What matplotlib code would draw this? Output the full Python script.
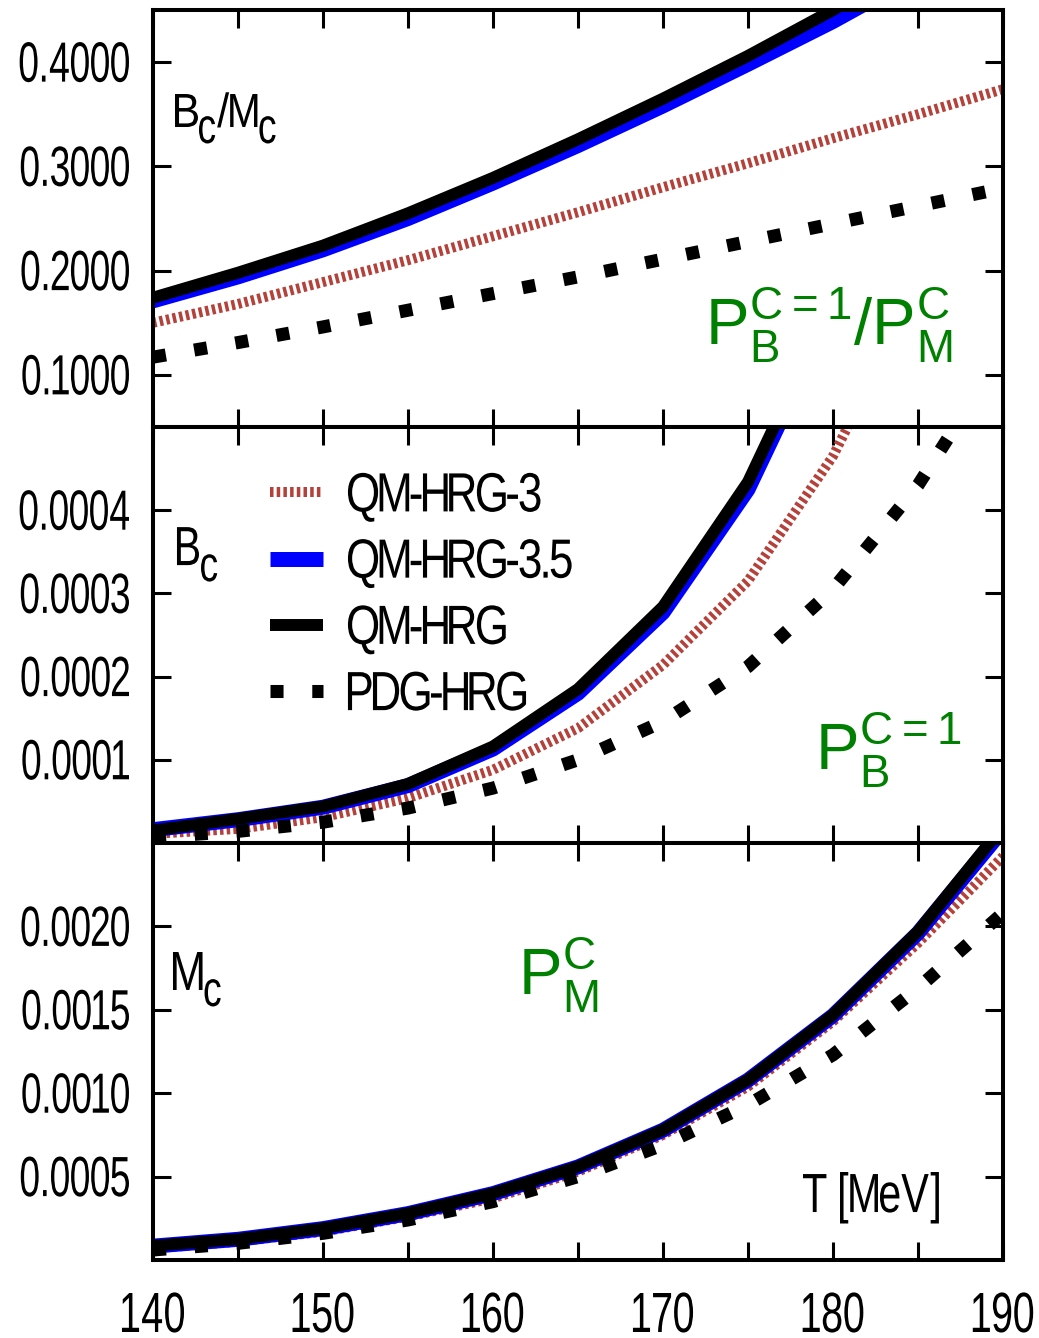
import matplotlib
matplotlib.use('Agg')
import matplotlib.pyplot as plt
import matplotlib.transforms as mtransforms
from matplotlib.font_manager import FontProperties
from matplotlib.textpath import TextPath
from matplotlib.patches import PathPatch
from matplotlib.path import Path
import numpy as np

# temperatures (MeV)
T = [140, 145, 150, 155, 160, 165, 170, 175, 180, 185, 190]

# ratio B_c / M_c
ratio_qm3 = [0.150, 0.168, 0.189, 0.210, 0.233, 0.256, 0.280, 0.303, 0.327, 0.350, 0.374]
ratio_qm35 = [0.171, 0.194, 0.220, 0.250, 0.284, 0.320, 0.358, 0.398, 0.439, 0.484, 0.532]
ratio_qm = [0.174, 0.198, 0.224, 0.255, 0.289, 0.326, 0.365, 0.406, 0.450, 0.497, 0.546]
ratio_pdg = [0.117, 0.131, 0.146, 0.162, 0.178, 0.194, 0.211, 0.228, 0.245, 0.262, 0.279]

# charmed baryon pressure B_c
bc_qm3 = [1.1e-5, 1.7e-5, 3.1e-5, 5.4e-5, 8.8e-5, 1.38e-4, 2.14e-4, 3.15e-4, 4.65e-4, 6.7e-4, 9.1e-4]
bc_qm35 = [1.6e-5, 2.8e-5, 4.3e-5, 6.9e-5, 1.13e-4, 1.80e-4, 2.77e-4, 4.25e-4, 6.40e-4, 9.6e-4, 1.37e-3]
bc_qm = [1.5e-5, 2.9e-5, 4.4e-5, 7.1e-5, 1.16e-4, 1.85e-4, 2.84e-4, 4.34e-4, 6.5e-4, 9.8e-4, 1.40e-3]
bc_pdg = [7e-6, 1.4e-5, 2.5e-5, 4.2e-5, 6.6e-5, 1.0e-4, 1.46e-4, 2.12e-4, 3.05e-4, 4.3e-4, 5.9e-4]

# charmed meson pressure M_c
mc_qm3 = [7e-5, 1.1e-4, 1.7e-4, 2.6e-4, 3.7e-4, 5.3e-4, 7.5e-4, 1.04e-3, 1.43e-3, 1.90e-3, 2.42e-3]
mc_qm35 = [8.3e-5, 1.24e-4, 1.88e-4, 2.78e-4, 3.98e-4, 5.58e-4, 7.78e-4, 1.078e-3, 1.465e-3, 1.96e-3, 2.58e-3]
mc_qm = [8.5e-5, 1.25e-4, 1.9e-4, 2.8e-4, 4.0e-4, 5.6e-4, 7.8e-4, 1.08e-3, 1.47e-3, 1.97e-3, 2.6e-3]
mc_pdg = [6e-5, 1.0e-4, 1.6e-4, 2.4e-4, 3.5e-4, 5.0e-4, 6.9e-4, 9.3e-4, 1.23e-3, 1.63e-3, 2.08e-3]

labels = ['QM-HRG-3', 'QM-HRG-3.5', 'QM-HRG', 'PDG-HRG']
xtick_labels = ['140', '150', '160', '170', '180', '190']

plt.rcParams['font.family'] = ['Liberation Sans', 'DejaVu Sans']
plt.rcParams['mathtext.fontset'] = 'custom'
plt.rcParams['mathtext.rm'] = 'Liberation Sans'

FP = FontProperties(family='Liberation Sans')
CAP = TextPath((0, 0), 'H', size=100, prop=FP).get_extents().height / 100.0


def ntext(ax, x, y, s, cap, sx=0.75, gap=2.0, ha='left', va='baseline', color='black',
          trans=None, xoff=0.0, yoff=0.0, em=None):
    """Condensed, tightly tracked text built from glyph outlines (sizes in pixels)."""
    em = em or cap / CAP
    verts, codes, cur = [], [], 0.0
    for ch in s:
        if ch == ' ':
            cur += 0.28 * em * sx
            continue
        extra = gap if ch == '.' else 0.0
        cur += extra
        p = TextPath((0, 0), ch, size=em, prop=FP)
        e = p.get_extents()
        p = p.transformed(mtransforms.Affine2D().scale(sx, 1).translate(cur - e.x0 * sx, 0))
        verts.append(p.vertices)
        codes.append(p.codes)
        cur += e.width * sx + gap + extra
    width = cur - gap
    path = Path(np.concatenate(verts), np.concatenate(codes))
    dx = {'left': 0.0, 'center': -width / 2, 'right': -width}[ha]
    dy = {'baseline': 0.0, 'center': -cap / 2, 'top': -cap}[va]
    base = trans if trans is not None else ax.transAxes
    tr = mtransforms.Affine2D().translate(dx + xoff, dy + yoff) + \
        mtransforms.ScaledTranslation(x, y, base)
    ax.add_patch(PathPatch(path, transform=tr, facecolor=color, edgecolor='none',
                           clip_on=False))
    return xoff + dx + width


fig = plt.figure(figsize=(10.39, 13.38), dpi=100)
W, H = 1039.0, 1338.0
x0, x1 = 153 / W, 1003 / W
rows = [(10, 427), (427, 843), (843, 1260)]
axes = [fig.add_axes([x0, 1 - b / H, x1 - x0, (b - t) / H]) for t, b in rows]

red = '#b5413b'
styles = [
    dict(color=red, lw=7.2, linestyle=(0, (0.35, 0.32)), solid_capstyle='butt'),
    dict(color='#0000ff', lw=10.8, solid_capstyle='butt'),
    dict(color='black', lw=8.6, solid_capstyle='butt'),
    dict(color='black', lw=9.4, linestyle=(0, (1.0, 2.2))),
]

panels = [
    (axes[0], [ratio_qm3, ratio_qm35, ratio_qm, ratio_pdg], (0.05, 0.45),
     [0.1, 0.2, 0.3, 0.4], ['0.1000', '0.2000', '0.3000', '0.4000']),
    (axes[1], [bc_qm3, bc_qm35, bc_qm, bc_pdg], (0.0, 0.0005),
     [0.0001, 0.0002, 0.0003, 0.0004], ['0.0001', '0.0002', '0.0003', '0.0004']),
    (axes[2], [mc_qm3, mc_qm35, mc_qm, mc_pdg], (0.0, 0.0025),
     [0.0005, 0.0010, 0.0015, 0.0020], ['0.0005', '0.0010', '0.0015', '0.0020']),
]

for ax, series, ylim, yt, ytl in panels:
    for ys, st, lab in zip(series, styles, labels):
        ax.plot(T, ys, label=lab, **st)
    ax.set_xlim(140, 190)
    ax.set_ylim(*ylim)
    ax.set_yticks(yt)
    ax.set_xticks(np.arange(140, 191, 5))
    ax.tick_params(direction='in', length=13, width=2.2, top=True, right=True,
                   labelleft=False, labelbottom=False)
    for sp in ax.spines.values():
        sp.set_linewidth(2.9)
    for v, s in zip(yt, ytl):
        ntext(ax, 0, v, s, cap=39, sx=0.66, gap=2.2, ha='right', va='center',
              trans=ax.get_yaxis_transform(), xoff=-24)

for s in xtick_labels:
    ntext(axes[2], float(s), 0, s, cap=39, sx=0.7, gap=3, ha='center', va='top',
          trans=axes[2].get_xaxis_transform(), yoff=-33)

# panel names
ax = axes[0]
xo = ntext(ax, 0.0259, 0.7194, 'B', cap=33, sx=0.9)
xo = ntext(ax, 0.0259, 0.7194, 'c', cap=33, em=50, sx=0.75, xoff=xo + 1, yoff=-16)
xo = ntext(ax, 0.0259, 0.7194, '/', cap=33, sx=0.9, xoff=xo + 2)
xo = ntext(ax, 0.0259, 0.7194, 'M', cap=33, sx=0.85, xoff=xo + 1)
ntext(ax, 0.0259, 0.7194, 'c', cap=33, em=50, sx=0.75, xoff=xo + 2, yoff=-16)

ax = axes[1]
xo = ntext(ax, 0.0282, 0.668, 'B', cap=38, sx=0.75)
ntext(ax, 0.0282, 0.668, 'c', cap=38, em=50, sx=0.75, xoff=xo + 2, yoff=-16)

ax = axes[2]
xo = ntext(ax, 0.0235, 0.6475, 'M', cap=38, sx=0.8)
ntext(ax, 0.0235, 0.6475, 'c', cap=38, em=50, sx=0.75, xoff=xo + 2, yoff=-16)
ntext(ax, 0.7647, 0.115, 'T [MeV]', cap=38, sx=0.75, gap=2)

green = '#008000'
axes[0].text(0.649, 0.197, r'$\mathrm{P}_\mathrm{B}^\mathrm{C=1}/\mathrm{P}_\mathrm{M}^\mathrm{C}$',
             transform=axes[0].transAxes, fontsize=47, color=green, va='baseline', ha='left')
axes[1].text(0.779, 0.175, r'$\mathrm{P}_\mathrm{B}^\mathrm{C=1}$',
             transform=axes[1].transAxes, fontsize=47, color=green, va='baseline', ha='left')
axes[2].text(0.429, 0.635, r'$\mathrm{P}_\mathrm{M}^\mathrm{C}$',
             transform=axes[2].transAxes, fontsize=47, color=green, va='baseline', ha='left')

# legend: library handles, condensed labels placed beside them
leg = axes[1].legend(loc='upper left', bbox_to_anchor=(0.1376, 0.886), frameon=False,
                     fontsize=35, borderpad=0, borderaxespad=0, handlelength=1.09,
                     handletextpad=0.51, labelspacing=0.437)
for t in leg.get_texts():
    t.set_color('none')
fig.canvas.draw()
for h, lab in zip(leg.legend_handles, labels):
    xy = h.get_transform().transform(np.column_stack(h.get_data()))
    ntext(axes[1], xy[:, 0].max(), xy[:, 1].mean(), lab, cap=38, sx=0.8, gap=1.5,
          va='center', trans=mtransforms.IdentityTransform(), xoff=25)

fig.savefig('out.png', dpi=100)
